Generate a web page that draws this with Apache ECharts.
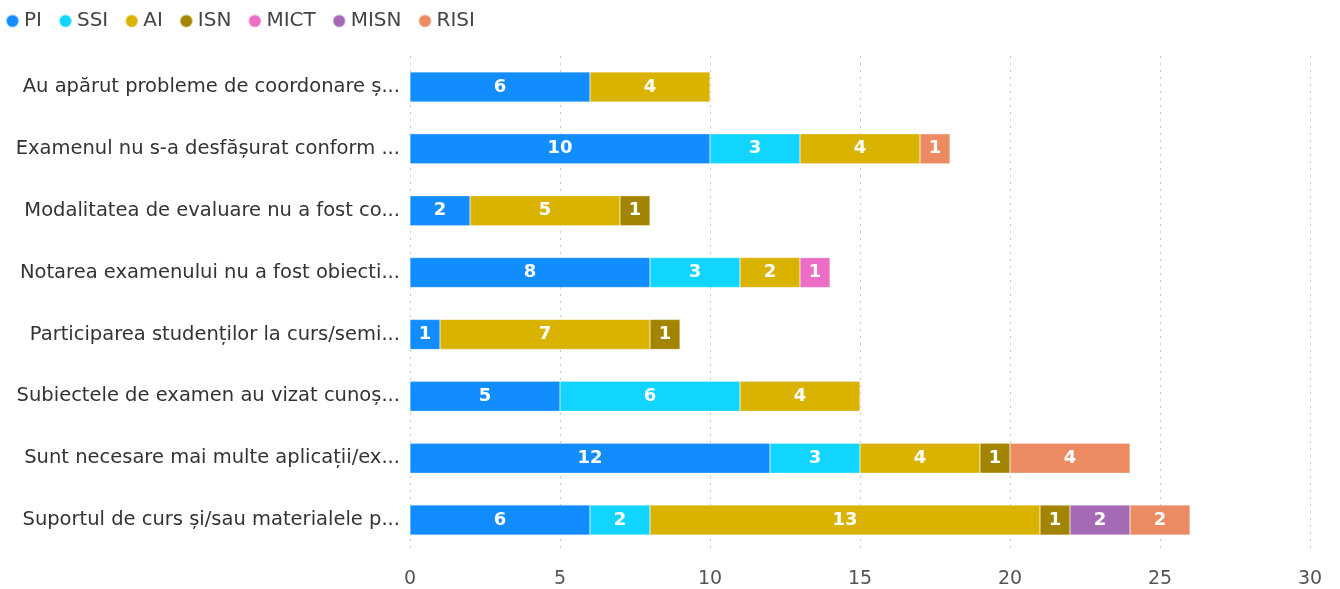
<!DOCTYPE html>
<html>
<head>
<meta charset="utf-8">
<script src="https://cdn.jsdelivr.net/npm/echarts@6/dist/echarts.min.js"></script>
<style>
  html, body { margin: 0; padding: 0; background: #fff; }
  #chart { width: 1340px; height: 589px; }
</style>
</head>
<body>
<div id="chart"></div>
<script>
var categories = [
  'Au apărut probleme de coordonare ș...',
  'Examenul nu s-a desfășurat conform ...',
  'Modalitatea de evaluare nu a fost co...',
  'Notarea examenului nu a fost obiecti...',
  'Participarea studenților la curs/semi...',
  'Subiectele de examen au vizat cunoș...',
  'Sunt necesare mai multe aplicații/ex...',
  'Suportul de curs și/sau materialele p...'
]
var seriesNames = ['PI', 'SSI', 'AI', 'ISN', 'MICT', 'MISN', 'RISI']
var colors = ['#118DFF', '#12D5FF', '#DAB300', '#A28400', '#EB6DC5', '#A56AB4', '#EC8A62']
var piData = [6, 10, 2, 8, 1, 5, 12, 6]
var ssiData = [0, 3, 0, 3, 0, 6, 3, 2]
var aiData = [4, 4, 5, 2, 7, 4, 4, 13]
var isnData = [0, 0, 1, 0, 1, 0, 1, 1]
var mictData = [0, 0, 0, 1, 0, 0, 0, 0]
var misnData = [0, 0, 0, 0, 0, 0, 0, 2]
var risiData = [0, 1, 0, 0, 0, 0, 4, 2]
var xTicks = { min: 0, max: 30, interval: 5 }

var allData = [piData, ssiData, aiData, isnData, mictData, misnData, risiData]
var font = '"DejaVu Sans", sans-serif'

var chart = echarts.init(document.getElementById('chart'))
var series = seriesNames.map(function(name, i) {
  return {
    name: name,
    type: 'bar',
    stack: 'total',
    barWidth: 30,
    itemStyle: { color: colors[i], borderColor: 'rgba(255,255,255,0.5)', borderWidth: 0.5 },
    label: {
      show: true,
      color: '#fff',
      fontWeight: 'bold',
      fontSize: 18,
      fontFamily: font,
      formatter: function(p) { return p.value ? p.value : '' }
    },
    data: allData[i].map(function(v) { return v === 0 ? '-' : v })
  }
})

chart.setOption({
  animation: false,
  textStyle: { fontFamily: font },
  legend: {
    left: 0,
    top: 6,
    icon: 'circle',
    itemWidth: 13,
    itemHeight: 13,
    itemGap: 16,
    textStyle: { fontSize: 20, color: '#444', fontFamily: font },
    data: seriesNames
  },
  grid: { left: 410, right: 30, top: 56, bottom: 37 },
  xAxis: {
    type: 'value',
    min: xTicks.min,
    max: xTicks.max,
    interval: xTicks.interval,
    axisLine: { show: false },
    axisTick: { show: false },
    splitLine: { lineStyle: { type: [2, 5], color: '#c8c8c8' } },
    axisLabel: { fontSize: 19, color: '#555', margin: 19, fontFamily: font }
  },
  yAxis: {
    type: 'category',
    inverse: true,
    data: categories,
    axisLine: { show: false },
    axisTick: { show: false },
    axisLabel: { fontSize: 19.5, color: '#333', margin: 10, fontFamily: font }
  },
  series: series
})
</script>
</body>
</html>
